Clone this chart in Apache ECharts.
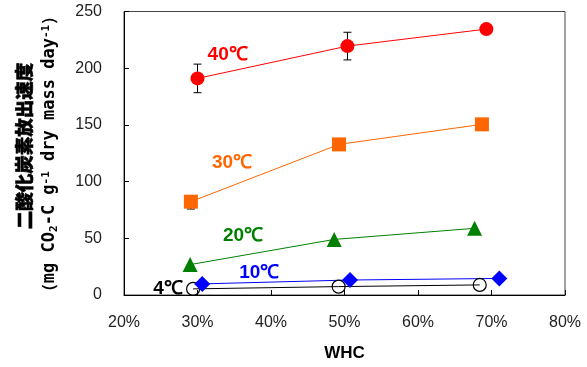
<!DOCTYPE html>
<html><head><meta charset="utf-8">
<script src="https://cdn.jsdelivr.net/npm/echarts@6/dist/echarts.min.js"></script>
<style>html,body{margin:0;padding:0;background:#fff}#c{width:587px;height:367px}</style>
</head><body><div id="c"></div>
<script>
// WHC (%) x positions and CO2 release rates
const x40 = [30.0, 50.4, 69.3];
const y40 = [191, 219.5, 234.5];
const e40 = [12.6, 12.2, 0];
const x30 = [29.1, 49.25, 68.7];
const y30 = [82.3, 132.8, 150.5];
const e30 = [6.5, 0, 0];
const x20 = [29.0, 48.6, 67.7];
const y20 = [26.8, 49.0, 58.8];
const x10 = [30.65, 50.75, 71.06];
const y10 = [9.8, 13.2, 14.6];
const x4 = [29.4, 49.2, 68.4];
const y4 = [5.4, 7.4, 8.9];
const xTicks = [20, 30, 40, 50, 60, 70, 80];
const yTicks = [0, 50, 100, 150, 200, 250];
const seriesLabels = ['40℃', '30℃', '20℃', '10℃', '4℃'];
const labelX = [34.1, 34.7, 36.2, 38.4, 26.0];
const labelY = [212, 116.3, 51.8, 19.6, 5.7];
const labelColors = ['#ff0000', '#ff6600', '#008000', '#0000ff', '#000000'];

const pts = (xs, ys) => xs.map((v, i) => [v, ys[i]]);
// error bars: [x, low, high]; 30℃ bar only shows below the square
const errData = (xs, ys, es, upper) => xs.map((v, i) => [v, ys[i] - es[i], ys[i] + (upper ? es[i] : 0)]).filter((d, i) => es[i] > 0);

function errSeries(data) {
  return {
    type: 'custom', z: 1, silent: true,
    renderItem: function (params, api) {
      const x = api.value(0);
      const lo = api.coord([x, api.value(1)]);
      const hi = api.coord([x, api.value(2)]);
      const w = 4;
      const st = { stroke: '#000', lineWidth: 1 };
      return { type: 'group', children: [
        { type: 'line', shape: { x1: lo[0], y1: lo[1], x2: hi[0], y2: hi[1] }, style: st },
        { type: 'line', shape: { x1: lo[0] - w, y1: lo[1], x2: lo[0] + w, y2: lo[1] }, style: st },
        { type: 'line', shape: { x1: hi[0] - w, y1: hi[1], x2: hi[0] + w, y2: hi[1] }, style: st }
      ]};
    },
    encode: { x: 0, y: [1, 2] },
    data: data
  };
}

function lineSeries(name, data, color, symbol, size, itemStyle, lineColor) {
  return {
    name: name, type: 'line', data: data, symbol: symbol, symbolSize: size,
    lineStyle: { color: lineColor || color, width: 1 },
    itemStyle: itemStyle || { color: color },
    z: 3, animation: false
  };
}

const chart = echarts.init(document.getElementById('c'), null, { renderer: 'canvas' });
const tickFont = { fontFamily: 'Liberation Sans, Arial, sans-serif', fontSize: 16, color: '#222' };
chart.setOption({
  animation: false,
  grid: { left: 124, right: 22, top: 11.5, bottom: 68.5, show: true, borderColor: '#444', borderWidth: 1 },
  xAxis: {
    type: 'value', min: xTicks[0], max: xTicks[xTicks.length - 1], interval: 10,
    axisLine: { lineStyle: { color: '#000', width: 1 } },
    axisTick: { inside: true, length: 5, lineStyle: { color: '#000' } },
    splitLine: { show: false },
    axisLabel: Object.assign({ margin: 20, formatter: '{value}%' }, tickFont),
    name: 'WHC', nameLocation: 'middle', nameGap: 50,
    nameTextStyle: { fontFamily: 'Liberation Sans, Arial, sans-serif', fontWeight: 'bold', fontSize: 17, color: '#000' }
  },
  yAxis: {
    type: 'value', min: yTicks[0], max: yTicks[yTicks.length - 1], interval: 50,
    axisLine: { lineStyle: { color: '#000', width: 1 } },
    axisTick: { inside: true, length: 5, lineStyle: { color: '#000' } },
    splitLine: { show: false },
    axisLabel: Object.assign({ margin: 22, padding: [4, 0, 0, 0] }, tickFont)
  },
  graphic: [
    { type: 'text', x: 24, y: 146, rotation: Math.PI / 2,
      style: { text: '二酸化炭素放出速度', fontFamily: 'Noto Sans CJK JP', fontWeight: 900, fontSize: 18.5, fill: '#000',
        stroke: '#000', lineWidth: 0.6, align: 'center', verticalAlign: 'middle' } },
    { type: 'text', x: 50, y: 154, rotation: Math.PI / 2,
      style: {
        text: '{a|（mg CO}{s|2}{a|-C g}{p|-1}{a| dry mass day}{p|-1}{a|）}',
        align: 'center', verticalAlign: 'middle',
        rich: {
          a: { fontFamily: 'DejaVu Sans Mono', fontWeight: 'bold', fontSize: 17, fill: '#000', lineHeight: 20 },
          s: { fontFamily: 'DejaVu Sans Mono', fontWeight: 'bold', fontSize: 11, fill: '#000', padding: [8, 0, 0, 0], lineHeight: 20 },
          p: { fontFamily: 'DejaVu Sans Mono', fontWeight: 'bold', fontSize: 11, fill: '#000', padding: [0, 0, 8, 0], lineHeight: 20 }
        }
      } }
  ],
  series: [
    errSeries(errData(x40, y40, e40, true)),
    errSeries(errData(x30, y30, e30, false)),
    lineSeries('4℃', pts(x4, y4), '#000', 'circle', 13, { color: 'rgba(0,0,0,0)', borderColor: '#000', borderWidth: 1.2 }, '#000'),
    lineSeries('10℃', pts(x10, y10), '#0000ff', 'diamond', 16),
    lineSeries('20℃', pts(x20, y20), '#008000', 'triangle', 15),
    lineSeries('30℃', pts(x30, y30), '#ff6600', 'rect', 14),
    lineSeries('40℃', pts(x40, y40), '#ff0000', 'circle', 14),
    {
      type: 'scatter', symbol: 'circle', symbolSize: 1, silent: true, z: 5,
      itemStyle: { color: '#fff', opacity: 0 },
      data: seriesLabels.map((t, i) => ({
        value: [labelX[i], labelY[i]],
        label: { show: true, position: 'inside', formatter: t, color: labelColors[i], opacity: 1,
          textBorderWidth: 0, fontFamily: 'Liberation Sans, Arial, sans-serif', fontWeight: 'bold', fontSize: 19 }
      }))
    }
  ]
});
</script></body></html>
